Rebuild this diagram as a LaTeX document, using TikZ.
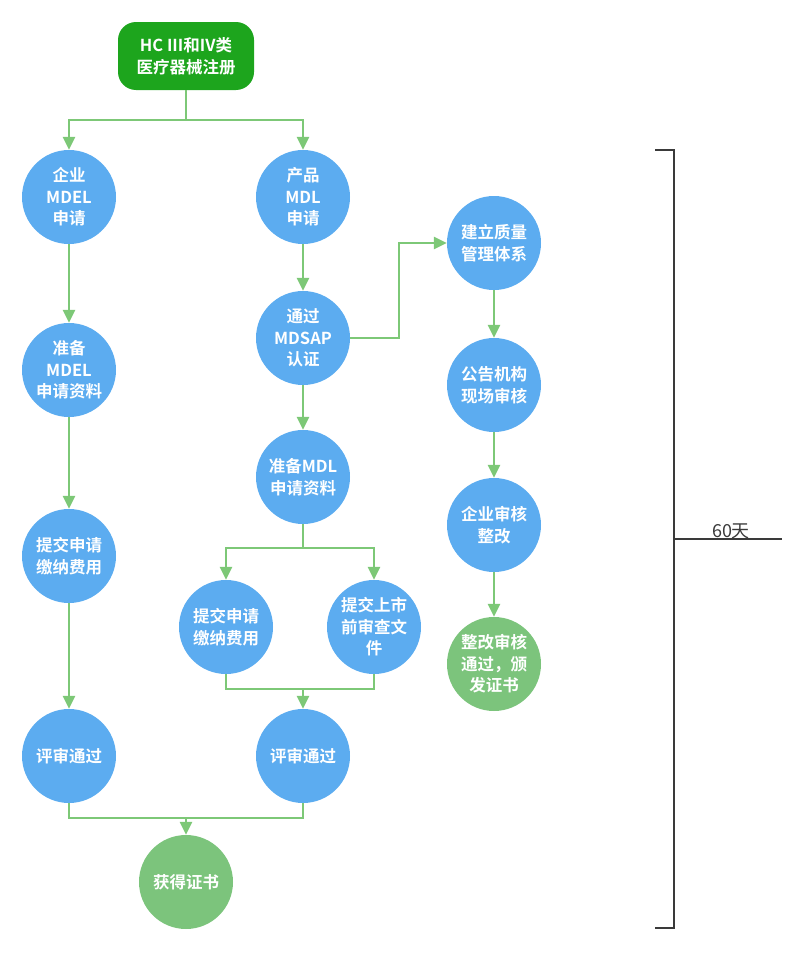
\documentclass[tikz,border=0pt]{standalone}
\usepackage{fontspec}
\setmainfont{Noto Sans CJK SC}[BoldFont={Noto Sans CJK SC Bold}]
\usetikzlibrary{arrows.meta,calc}
\definecolor{bluec}{HTML}{5CACF0}
\definecolor{greenc}{HTML}{7CC47C}
\definecolor{darkg}{HTML}{1DA51D}
\definecolor{linec}{HTML}{7DC877}
\definecolor{brk}{HTML}{3A3A3A}
\tikzset{
  stepc/.style={circle,fill=bluec,minimum size=94pt,inner sep=0pt,align=center,text=white,font=\fontsize{16.5}{21.5}\selectfont\bfseries},
  donec/.style={stepc,fill=greenc},
  topbox/.style={rounded corners=18pt,fill=darkg,minimum width=136pt,minimum height=68pt,align=center,text=white,font=\fontsize{16.5}{22}\selectfont\bfseries},
  conn/.style={draw=linec,line width=2.8pt},
  arr/.style={conn,-{Triangle[width=12pt,length=13pt]}},
}
\begin{document}
\begin{tikzpicture}[x=1pt,y=-1pt]
\useasboundingbox (0,0) rectangle (811,953);
\node[topbox] (top) at (186,56) {HC III和IV类\\医疗器械注册};
% left column
\node[stepc] (a1) at (69,197) {企业\\MDEL\\申请};
\node[stepc] (a2) at (69,370) {准备\\MDEL\\申请资料};
\node[stepc] (a3) at (69,556) {提交申请\\缴纳费用};
\node[stepc] (a4) at (69,756) {评审通过};
% middle column
\node[stepc] (b1) at (303,197) {产品\\MDL\\申请};
\node[stepc] (b2) at (303,338) {通过\\MDSAP\\认证};
\node[stepc] (b3) at (303,477) {准备MDL\\申请资料};
\node[stepc] (b4) at (226,627) {提交申请\\缴纳费用};
\node[stepc] (b5) at (374,627) {提交上市\\前审查文\\件};
\node[stepc] (b6) at (303,756) {评审通过};
% right column
\node[stepc] (c1) at (494,243) {建立质量\\管理体系};
\node[stepc] (c2) at (494,385) {公告机构\\现场审核};
\node[stepc] (c3) at (494,525) {企业审核\\整改};
\node[donec] (c4) at (494,664) {整改审核\\通过，颁\\发证书};
% final
\node[donec] (fin) at (186,882) {获得证书};
% connectors
\coordinate (s1) at (186,120);
\draw[conn] (top.south) -- (s1);
\draw[arr] (s1) -| (a1.north);
\draw[arr] (s1) -| (b1.north);
\draw[arr] (a1) -- (a2);
\draw[arr] (a2) -- (a3);
\draw[arr] (a3) -- (a4);
\draw[arr] (b1) -- (b2);
\draw[arr] (b2) -- (b3);
\coordinate (m1) at (399,338);
\draw[arr] (b2.east) -- (m1) |- (c1.west);
\draw[arr] (c1) -- (c2);
\draw[arr] (c2) -- (c3);
\draw[arr] (c3) -- (c4);
\coordinate (s2) at (303,548);
\draw[conn] (b3.south) -- (s2);
\draw[arr] (s2) -| (b4.north);
\draw[arr] (s2) -| (b5.north);
\coordinate (j1) at (226,689);
\coordinate (j2) at (374,689);
\coordinate (j3) at (303,689);
\draw[conn] (b4.south) -- (j1) -- (j2) -- (b5.south);
\draw[arr] (j3) -- (b6.north);
\coordinate (k1) at (69,818);
\coordinate (k2) at (303,818);
\coordinate (k3) at (186,818);
\draw[conn] (a4.south) -- (k1) -- (k2) -- (b6.south);
\draw[arr] (k3) -- (fin.north);
% bracket
\coordinate (bt) at (674,150);
\coordinate (bb) at (674,928);
\coordinate (bm) at (674,539);
\coordinate (be) at (782,539);
\draw[brk,line width=1.6pt] ($(bt)+(-19,0)$) -- (bt) -- (bb) -- ($(bb)+(-19,0)$);
\draw[brk,line width=1.6pt] (bm) -- (be);
\node[text=brk,font=\fontsize{18}{20}\selectfont,anchor=base,inner sep=0pt] (lbl) at (731,537) {60天};
\end{tikzpicture}
\end{document}
